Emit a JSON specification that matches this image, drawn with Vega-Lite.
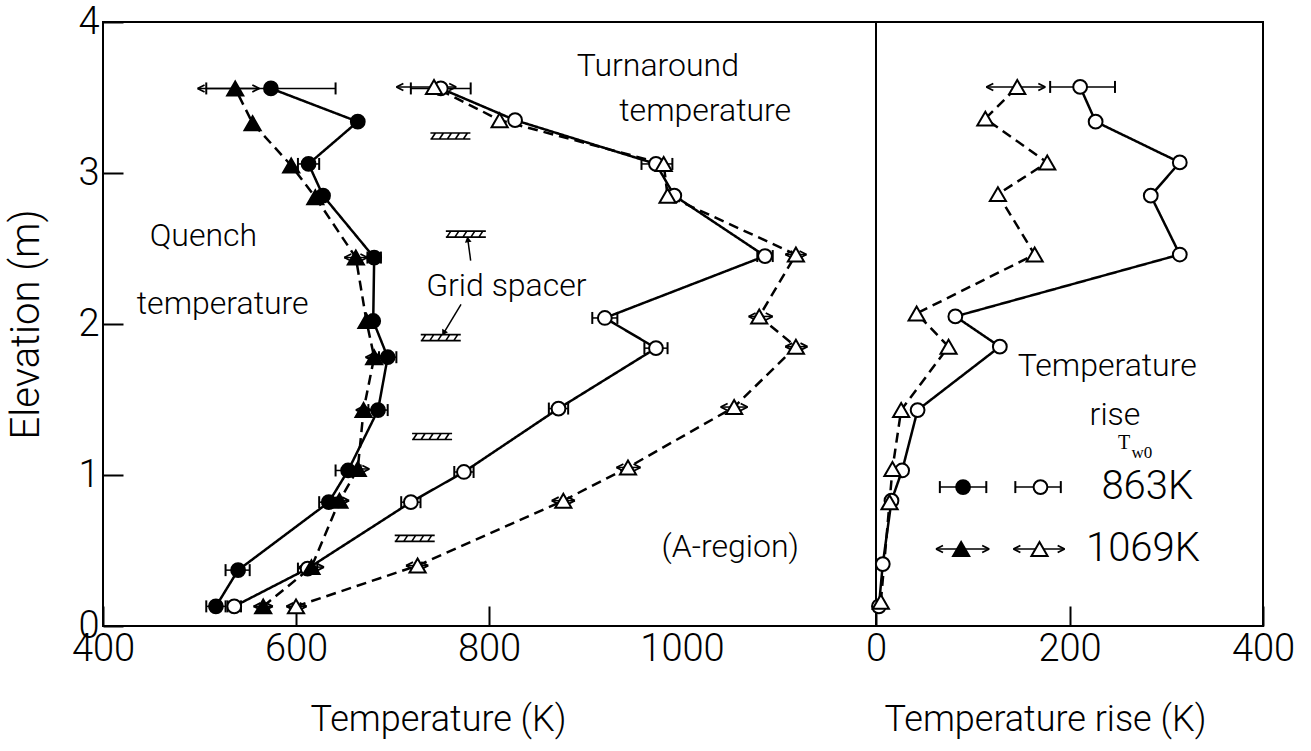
{
  "$schema": "https://vega.github.io/schema/vega-lite/v6.json",
  "background": "white",
  "padding": {"left": 5, "top": 2, "right": 5, "bottom": 5},
  "spacing": 0,
  "bounds": "flush",
  "config": {
    "font": "Roboto",
    "view": {"stroke": "black", "strokeWidth": 2},
    "axis": {
      "domain": false,
      "grid": false,
      "tickColor": "black",
      "tickWidth": 2,
      "tickSize": -20,
      "labelPadding": 24,
      "labelFontSize": 38,
      "labelFontWeight": 300,
      "labelColor": "black",
      "labelFont": "Roboto",
      "titleFont": "Roboto",
      "titleFontSize": 36,
      "titleFontWeight": 300,
      "titleColor": "black"
    },
    "text": {"fontSize": 32, "fontWeight": 300, "color": "black", "font": "Roboto"}
  },
  "datasets": {
    "profiles": [
      {"case": "863 K", "kind": "quench", "elev": 3.56, "temp": 574, "lo": 507, "hi": 641},
      {"case": "863 K", "kind": "quench", "elev": 3.34, "temp": 664},
      {"case": "863 K", "kind": "quench", "elev": 3.06, "temp": 613, "lo": 602, "hi": 624},
      {"case": "863 K", "kind": "quench", "elev": 2.85, "temp": 628},
      {"case": "863 K", "kind": "quench", "elev": 2.44, "temp": 681, "lo": 674, "hi": 688},
      {"case": "863 K", "kind": "quench", "elev": 2.02, "temp": 680},
      {"case": "863 K", "kind": "quench", "elev": 1.78, "temp": 695, "lo": 686, "hi": 704},
      {"case": "863 K", "kind": "quench", "elev": 1.43, "temp": 685, "lo": 675, "hi": 695},
      {"case": "863 K", "kind": "quench", "elev": 1.03, "temp": 654, "lo": 641, "hi": 667},
      {"case": "863 K", "kind": "quench", "elev": 0.82, "temp": 634, "lo": 624, "hi": 644},
      {"case": "863 K", "kind": "quench", "elev": 0.37, "temp": 540, "lo": 527, "hi": 552},
      {"case": "863 K", "kind": "quench", "elev": 0.13, "temp": 517, "lo": 507, "hi": 527},
      {"case": "863 K", "kind": "turnaround", "elev": 3.56, "temp": 750, "lo": 719, "hi": 781},
      {"case": "863 K", "kind": "turnaround", "elev": 3.35, "temp": 827},
      {"case": "863 K", "kind": "turnaround", "elev": 3.06, "temp": 973, "lo": 958, "hi": 990},
      {"case": "863 K", "kind": "turnaround", "elev": 2.85, "temp": 992},
      {"case": "863 K", "kind": "turnaround", "elev": 2.45, "temp": 1086, "lo": 1078, "hi": 1094},
      {"case": "863 K", "kind": "turnaround", "elev": 2.04, "temp": 920, "lo": 907, "hi": 933},
      {"case": "863 K", "kind": "turnaround", "elev": 1.84, "temp": 973, "lo": 961, "hi": 985},
      {"case": "863 K", "kind": "turnaround", "elev": 1.44, "temp": 872, "lo": 862, "hi": 882},
      {"case": "863 K", "kind": "turnaround", "elev": 1.02, "temp": 774, "lo": 764, "hi": 784},
      {"case": "863 K", "kind": "turnaround", "elev": 0.82, "temp": 719, "lo": 709, "hi": 729},
      {"case": "863 K", "kind": "turnaround", "elev": 0.38, "temp": 612, "lo": 602, "hi": 622},
      {"case": "863 K", "kind": "turnaround", "elev": 0.13, "temp": 536, "lo": 529, "hi": 543},
      {"case": "1069 K", "kind": "quench", "elev": 3.56, "temp": 537, "lo": 498, "hi": 562},
      {"case": "1069 K", "kind": "quench", "elev": 3.33, "temp": 555},
      {"case": "1069 K", "kind": "quench", "elev": 3.05, "temp": 595},
      {"case": "1069 K", "kind": "quench", "elev": 2.84, "temp": 620},
      {"case": "1069 K", "kind": "quench", "elev": 2.44, "temp": 662, "lo": 650, "hi": 674},
      {"case": "1069 K", "kind": "quench", "elev": 2.02, "temp": 673},
      {"case": "1069 K", "kind": "quench", "elev": 1.78, "temp": 681, "lo": 672, "hi": 690},
      {"case": "1069 K", "kind": "quench", "elev": 1.43, "temp": 670, "lo": 662, "hi": 678},
      {"case": "1069 K", "kind": "quench", "elev": 1.04, "temp": 664, "lo": 652, "hi": 676},
      {"case": "1069 K", "kind": "quench", "elev": 0.83, "temp": 645, "lo": 635, "hi": 655},
      {"case": "1069 K", "kind": "quench", "elev": 0.39, "temp": 616, "lo": 603, "hi": 629},
      {"case": "1069 K", "kind": "quench", "elev": 0.13, "temp": 566, "lo": 556, "hi": 576},
      {"case": "1069 K", "kind": "turnaround", "elev": 3.57, "temp": 743, "lo": 704, "hi": 766},
      {"case": "1069 K", "kind": "turnaround", "elev": 3.35, "temp": 811},
      {"case": "1069 K", "kind": "turnaround", "elev": 3.06, "temp": 981},
      {"case": "1069 K", "kind": "turnaround", "elev": 2.85, "temp": 985},
      {"case": "1069 K", "kind": "turnaround", "elev": 2.46, "temp": 1118, "lo": 1107, "hi": 1129},
      {"case": "1069 K", "kind": "turnaround", "elev": 2.05, "temp": 1080, "lo": 1069, "hi": 1094},
      {"case": "1069 K", "kind": "turnaround", "elev": 1.85, "temp": 1118, "lo": 1107, "hi": 1130},
      {"case": "1069 K", "kind": "turnaround", "elev": 1.45, "temp": 1054, "lo": 1040, "hi": 1068},
      {"case": "1069 K", "kind": "turnaround", "elev": 1.05, "temp": 944, "lo": 932, "hi": 957},
      {"case": "1069 K", "kind": "turnaround", "elev": 0.83, "temp": 877, "lo": 865, "hi": 889},
      {"case": "1069 K", "kind": "turnaround", "elev": 0.40, "temp": 726, "lo": 714, "hi": 737},
      {"case": "1069 K", "kind": "turnaround", "elev": 0.13, "temp": 600, "lo": 590, "hi": 611}
    ],
    "rise": [
      {"case": "863 K", "kind": "rise", "elev": 3.57, "rise": 211, "lo": 180, "hi": 247},
      {"case": "863 K", "kind": "rise", "elev": 3.34, "rise": 227},
      {"case": "863 K", "kind": "rise", "elev": 3.07, "rise": 314},
      {"case": "863 K", "kind": "rise", "elev": 2.85, "rise": 284},
      {"case": "863 K", "kind": "rise", "elev": 2.46, "rise": 314},
      {"case": "863 K", "kind": "rise", "elev": 2.05, "rise": 82},
      {"case": "863 K", "kind": "rise", "elev": 1.85, "rise": 128},
      {"case": "863 K", "kind": "rise", "elev": 1.43, "rise": 43},
      {"case": "863 K", "kind": "rise", "elev": 1.03, "rise": 27},
      {"case": "863 K", "kind": "rise", "elev": 0.83, "rise": 16},
      {"case": "863 K", "kind": "rise", "elev": 0.41, "rise": 7},
      {"case": "863 K", "kind": "rise", "elev": 0.13, "rise": 3},
      {"case": "1069 K", "kind": "rise", "elev": 3.57, "rise": 146, "lo": 114, "hi": 175},
      {"case": "1069 K", "kind": "rise", "elev": 3.36, "rise": 113},
      {"case": "1069 K", "kind": "rise", "elev": 3.07, "rise": 177},
      {"case": "1069 K", "kind": "rise", "elev": 2.86, "rise": 126},
      {"case": "1069 K", "kind": "rise", "elev": 2.46, "rise": 164},
      {"case": "1069 K", "kind": "rise", "elev": 2.07, "rise": 42},
      {"case": "1069 K", "kind": "rise", "elev": 1.85, "rise": 75},
      {"case": "1069 K", "kind": "rise", "elev": 1.43, "rise": 26},
      {"case": "1069 K", "kind": "rise", "elev": 1.04, "rise": 17},
      {"case": "1069 K", "kind": "rise", "elev": 0.82, "rise": 14},
      {"case": "1069 K", "kind": "rise", "elev": 0.16, "rise": 5},
      {"case": "863 K", "kind": "quench", "elev": 0.92, "rise": 90, "lo": 66, "hi": 114},
      {"case": "863 K", "kind": "turnaround", "elev": 0.92, "rise": 170, "lo": 144, "hi": 191},
      {"case": "1069 K", "kind": "quench", "elev": 0.51, "rise": 88, "lo": 62, "hi": 117},
      {"case": "1069 K", "kind": "turnaround", "elev": 0.51, "rise": 169, "lo": 142, "hi": 195}
    ],
    "spacers": [
      {"elev": 3.245, "temp": 760},
      {"elev": 2.595, "temp": 776},
      {"elev": 1.91, "temp": 750},
      {"elev": 1.255, "temp": 741},
      {"elev": 0.58, "temp": 723}
    ],
    "pointers": [
      {"target": "upper", "temp": 781, "temp2": 778, "elev": 2.42, "elev2": 2.56},
      {"target": "lower", "temp": 771, "temp2": 753, "elev": 2.13, "elev2": 1.94}
    ],
    "notes": [
      {"note": "Turnaround", "temp": 975, "elev": 3.71},
      {"note": "temperature", "temp": 1024, "elev": 3.41},
      {"note": "Quench", "temp": 504, "elev": 2.58},
      {"note": "temperature", "temp": 524, "elev": 2.13},
      {"note": "Grid spacer", "temp": 818, "elev": 2.25},
      {"note": "(A-region)", "temp": 1050, "elev": 0.52}
    ],
    "riseNotes": [
      {"note": "Temperature", "rise": 239, "elev": 1.72},
      {"note": "rise", "rise": 247, "elev": 1.40}
    ],
    "legendTitle": [
      {"part": "T", "rise": 250, "elev": 1.215},
      {"part": "w0", "rise": 264, "elev": 1.145}
    ],
    "legendLabels": [
      {"note": "863K", "rise": 233, "elev": 0.92},
      {"note": "1069K", "rise": 217, "elev": 0.51}
    ]
  },
  "resolve": {"scale": {"x": "independent", "y": "independent"}},
  "hconcat": [
    {
      "width": 773,
      "height": 604,
      "data": {"name": "profiles"},
      "encoding": {
        "y": {
          "field": "elev",
          "type": "quantitative",
          "scale": {"domain": [0, 4], "nice": false, "zero": false},
          "axis": {"values": [0, 1, 2, 3, 4], "title": "Elevation  (m)", "titleFontSize": 40, "titlePadding": 31}
        }
      },
      "layer": [
        {
          "mark": {"type": "line", "color": "black", "strokeWidth": 2.5},
          "encoding": {
            "x": {
              "field": "temp",
              "type": "quantitative",
              "scale": {"domain": [400, 1201], "nice": false, "zero": false},
              "axis": {
                "values": [400, 600, 800, 1000],
                "format": "d",
                "title": "Temperature  (K)",
                "labelFlush": false,
                "titleX": 335,
                "titleY": 93,
                "titleBaseline": "middle",
                "titleAlign": "center",
                "tickOpacity": {"condition": {"test": "datum.value === 1000", "value": 0}, "value": 1}
              }
            },
            "detail": {"field": "kind"},
            "strokeDash": {
              "field": "case",
              "type": "nominal",
              "scale": {"domain": ["863 K", "1069 K"], "range": [[1, 0], [10, 6]]},
              "legend": null
            },
            "order": {"field": "elev", "type": "quantitative"}
          }
        },
        {
          "transform": [{"filter": "isValid(datum.lo)"}],
          "mark": {"type": "rule", "color": "black", "strokeWidth": 1.5},
          "encoding": {
            "x": {"field": "lo", "type": "quantitative"},
            "x2": {"field": "hi"}
          }
        },
        {
          "transform": [{"filter": "isValid(datum.lo) && datum.case === '863 K'"}],
          "mark": {"type": "point", "shape": "M0,-1L0,1", "size": 144, "color": "black", "strokeWidth": 2, "opacity": 1},
          "encoding": {"x": {"field": "lo", "type": "quantitative"}}
        },
        {
          "transform": [{"filter": "isValid(datum.hi) && datum.case === '863 K'"}],
          "mark": {"type": "point", "shape": "M0,-1L0,1", "size": 144, "color": "black", "strokeWidth": 2, "opacity": 1},
          "encoding": {"x": {"field": "hi", "type": "quantitative"}}
        },
        {
          "transform": [{"filter": "isValid(datum.lo) && datum.case === '1069 K'"}],
          "mark": {"type": "point", "shape": "M0,0L1.4,-0.7M0,0L1.4,0.7", "size": 100, "color": "black", "strokeWidth": 1.8, "opacity": 1},
          "encoding": {"x": {"field": "lo", "type": "quantitative"}}
        },
        {
          "transform": [{"filter": "isValid(datum.hi) && datum.case === '1069 K'"}],
          "mark": {"type": "point", "shape": "M0,0L-1.4,-0.7M0,0L-1.4,0.7", "size": 100, "color": "black", "strokeWidth": 1.8, "opacity": 1},
          "encoding": {"x": {"field": "hi", "type": "quantitative"}}
        },
        {
          "mark": {"type": "point", "filled": true, "stroke": "black", "strokeWidth": 2, "opacity": 1},
          "encoding": {
            "x": {"field": "temp", "type": "quantitative"},
            "shape": {
              "field": "case",
              "type": "nominal",
              "scale": {"domain": ["863 K", "1069 K"], "range": ["circle", "triangle-up"]},
              "legend": null
            },
            "size": {
              "field": "case",
              "type": "ordinal",
              "scale": {"domain": ["863 K", "1069 K"], "range": [190, 260]},
              "legend": null
            },
            "fill": {"condition": {"test": "datum.kind === 'quench'", "value": "black"}, "value": "white"}
          }
        },
        {
          "data": {"name": "spacers"},
          "mark": {
            "type": "point",
            "shape": "M-1,-0.15H1M-1,0.15H1M-0.95,0.15L-0.75,-0.15M-0.55,0.15L-0.35,-0.15M-0.15,0.15L0.05,-0.15M0.25,0.15L0.45,-0.15M0.65,0.15L0.85,-0.15",
            "size": 1600,
            "color": "black",
            "strokeWidth": 1.6,
            "opacity": 1
          },
          "encoding": {
            "x": {"field": "temp", "type": "quantitative"},
            "y": {"field": "elev", "type": "quantitative"}
          }
        },
        {
          "data": {"name": "pointers"},
          "mark": {"type": "rule", "color": "black", "strokeWidth": 1.5},
          "encoding": {
            "x": {"field": "temp", "type": "quantitative"},
            "x2": {"field": "temp2"},
            "y": {"field": "elev", "type": "quantitative"},
            "y2": {"field": "elev2"}
          }
        },
        {
          "data": {"name": "pointers"},
          "transform": [{"filter": "datum.target === 'upper'"}],
          "mark": {"type": "point", "shape": "triangle-up", "size": 45, "filled": true, "color": "black", "opacity": 1, "angle": 351},
          "encoding": {
            "x": {"field": "temp2", "type": "quantitative"},
            "y": {"field": "elev2", "type": "quantitative"}
          }
        },
        {
          "data": {"name": "pointers"},
          "transform": [{"filter": "datum.target === 'lower'"}],
          "mark": {"type": "point", "shape": "triangle-up", "size": 45, "filled": true, "color": "black", "opacity": 1, "angle": 210},
          "encoding": {
            "x": {"field": "temp2", "type": "quantitative"},
            "y": {"field": "elev2", "type": "quantitative"}
          }
        },
        {
          "data": {"name": "notes"},
          "mark": {"type": "text", "align": "center", "baseline": "middle"},
          "encoding": {
            "x": {"field": "temp", "type": "quantitative"},
            "y": {"field": "elev", "type": "quantitative"},
            "text": {"field": "note"}
          }
        }
      ]
    },
    {
      "width": 387,
      "height": 604,
      "data": {"name": "rise"},
      "encoding": {
        "y": {
          "field": "elev",
          "type": "quantitative",
          "scale": {"domain": [0, 4], "nice": false, "zero": false},
          "axis": null
        }
      },
      "layer": [
        {
          "transform": [{"filter": "datum.kind === 'rise'"}],
          "mark": {"type": "line", "color": "black", "strokeWidth": 2.5},
          "encoding": {
            "x": {
              "field": "rise",
              "type": "quantitative",
              "scale": {"domain": [0, 400], "nice": false, "zero": false},
              "axis": {
                "values": [0, 200, 400],
                "format": "d",
                "title": "Temperature rise  (K)",
                "labelFlush": false,
                "titleX": 169,
                "titleY": 93,
                "titleBaseline": "middle",
                "titleAlign": "center"
              }
            },
            "strokeDash": {
              "field": "case",
              "type": "nominal",
              "scale": {"domain": ["863 K", "1069 K"], "range": [[1, 0], [10, 6]]},
              "legend": null
            },
            "order": {"field": "elev", "type": "quantitative"}
          }
        },
        {
          "transform": [{"filter": "isValid(datum.lo)"}],
          "mark": {"type": "rule", "color": "black", "strokeWidth": 1.5},
          "encoding": {
            "x": {"field": "lo", "type": "quantitative"},
            "x2": {"field": "hi"}
          }
        },
        {
          "transform": [{"filter": "isValid(datum.lo) && datum.case === '863 K'"}],
          "mark": {"type": "point", "shape": "M0,-1L0,1", "size": 144, "color": "black", "strokeWidth": 2, "opacity": 1},
          "encoding": {"x": {"field": "lo", "type": "quantitative"}}
        },
        {
          "transform": [{"filter": "isValid(datum.hi) && datum.case === '863 K'"}],
          "mark": {"type": "point", "shape": "M0,-1L0,1", "size": 144, "color": "black", "strokeWidth": 2, "opacity": 1},
          "encoding": {"x": {"field": "hi", "type": "quantitative"}}
        },
        {
          "transform": [{"filter": "isValid(datum.lo) && datum.case === '1069 K'"}],
          "mark": {"type": "point", "shape": "M0,0L1.4,-0.7M0,0L1.4,0.7", "size": 100, "color": "black", "strokeWidth": 1.8, "opacity": 1},
          "encoding": {"x": {"field": "lo", "type": "quantitative"}}
        },
        {
          "transform": [{"filter": "isValid(datum.hi) && datum.case === '1069 K'"}],
          "mark": {"type": "point", "shape": "M0,0L-1.4,-0.7M0,0L-1.4,0.7", "size": 100, "color": "black", "strokeWidth": 1.8, "opacity": 1},
          "encoding": {"x": {"field": "hi", "type": "quantitative"}}
        },
        {
          "mark": {"type": "point", "filled": true, "stroke": "black", "strokeWidth": 2, "opacity": 1},
          "encoding": {
            "x": {"field": "rise", "type": "quantitative"},
            "shape": {
              "field": "case",
              "type": "nominal",
              "scale": {"domain": ["863 K", "1069 K"], "range": ["circle", "triangle-up"]},
              "legend": null
            },
            "size": {
              "field": "case",
              "type": "ordinal",
              "scale": {"domain": ["863 K", "1069 K"], "range": [190, 260]},
              "legend": null
            },
            "fill": {"condition": {"test": "datum.kind === 'quench'", "value": "black"}, "value": "white"}
          }
        },
        {
          "data": {"name": "riseNotes"},
          "mark": {"type": "text", "align": "center", "baseline": "middle"},
          "encoding": {
            "x": {"field": "rise", "type": "quantitative"},
            "y": {"field": "elev", "type": "quantitative"},
            "text": {"field": "note"}
          }
        },
        {
          "data": {"name": "legendTitle"},
          "transform": [{"filter": "datum.part === 'T'"}],
          "mark": {"type": "text", "align": "left", "baseline": "middle", "font": "Liberation Serif", "fontWeight": "normal", "fontSize": 20},
          "encoding": {
            "x": {"field": "rise", "type": "quantitative"},
            "y": {"field": "elev", "type": "quantitative"},
            "text": {"field": "part"}
          }
        },
        {
          "data": {"name": "legendTitle"},
          "transform": [{"filter": "datum.part === 'w0'"}],
          "mark": {"type": "text", "align": "left", "baseline": "middle", "font": "Liberation Serif", "fontWeight": "normal", "fontSize": 17},
          "encoding": {
            "x": {"field": "rise", "type": "quantitative"},
            "y": {"field": "elev", "type": "quantitative"},
            "text": {"field": "part"}
          }
        },
        {
          "data": {"name": "legendLabels"},
          "mark": {"type": "text", "align": "left", "baseline": "middle", "fontSize": 40},
          "encoding": {
            "x": {"field": "rise", "type": "quantitative"},
            "y": {"field": "elev", "type": "quantitative"},
            "text": {"field": "note"}
          }
        }
      ]
    }
  ]
}
